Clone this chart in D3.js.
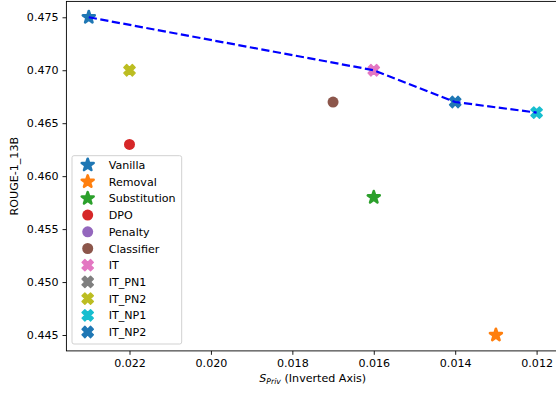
<!DOCTYPE html>
<html>
<head>
<meta charset="utf-8">
<script src="https://cdn.jsdelivr.net/npm/d3@7"></script>
<style>
  body { margin: 0; background: #fff; }
  svg { display: block; font-family: "DejaVu Sans", sans-serif; }
</style>
</head>
<body>
<svg id="chart" width="556" height="394"></svg>
<script>
// DATA -----------------------------------------------------------------------

var methods = ["Vanilla", "Removal", "Substitution", "DPO", "Penalty", "Classifier",
               "IT", "IT_PN1", "IT_PN2", "IT_NP1", "IT_NP2"];
var sPriv   = [0.023, 0.013, 0.016, 0.022, null, 0.017, 0.016, null, 0.022, 0.012, 0.014];
var rouge   = [0.475, 0.445, 0.458, 0.463, null, 0.467, 0.470, null, 0.470, 0.466, 0.467];
var shapes  = ["star", "star", "star", "circle", "circle", "circle",
               "x", "x", "x", "x", "x"];
var colors  = ["#1f77b4", "#ff7f0e", "#2ca02c", "#d62728", "#9467bd", "#8c564b",
               "#e377c2", "#7f7f7f", "#bcbd22", "#17becf", "#1f77b4"];

// pareto frontier (dashed line)
var frontX = [0.023, 0.016, 0.014, 0.012];
var frontY = [0.475, 0.470, 0.467, 0.466];

var xTicks = [0.022, 0.020, 0.018, 0.016, 0.014, 0.012];
var yTicks = [0.445, 0.450, 0.455, 0.460, 0.465, 0.470, 0.475];

// LAYOUT ---------------------------------------------------------------------

var svg = d3.select("#chart");
var padL = 66.4, padR = 559, padT = 1.4, padB = 350.9;
var fs = 11.1; // font size in px

var x = d3.scaleLinear().domain([0.02355, 0.01145]).range([padL, padR]);
var y = d3.scaleLinear().domain([0.4435, 0.4765]).range([padB, padT]);
var fmt = d3.format(".3f");

// marker styles: stars get a thick round stroke so they look "fat"
function markerPath(shape) {
    if (shape == "star") return d3.symbol().type(d3.symbolStar).size(44)();
    if (shape == "circle") return d3.symbol().type(d3.symbolCircle).size(95)();
    return d3.symbol().type(d3.symbolCross).size(80)();
}
function markerStroke(shape) {
    if (shape == "star") return 2.6;
    if (shape == "x") return 1.4;
    return 0;
}
function markerRot(shape) { return shape == "x" ? " rotate(45)" : ""; }

// AXES -----------------------------------------------------------------------

var xAxis = d3.axisBottom(x).tickValues(xTicks).tickFormat(fmt)
    .tickSize(3.9).tickPadding(3.9);
var yAxis = d3.axisLeft(y).tickValues(yTicks).tickFormat(fmt)
    .tickSize(3.9).tickPadding(3.9);

svg.append("g").attr("transform", "translate(0," + padB + ")").call(xAxis);
svg.append("g").attr("transform", "translate(" + padL + ",0)").call(yAxis);
svg.selectAll(".domain").remove();
svg.selectAll(".tick line").attr("stroke", "#000").attr("stroke-width", 0.9);
svg.selectAll(".tick text").attr("fill", "#000").attr("font-size", fs)
   .attr("font-family", "DejaVu Sans, sans-serif");

// frame (right side falls outside the picture)
svg.append("rect")
   .attr("x", padL).attr("y", padT)
   .attr("width", padR - padL).attr("height", padB - padT)
   .attr("fill", "none").attr("stroke", "#000").attr("stroke-width", 0.9);

// POINTS ---------------------------------------------------------------------

for (var i = 0; i < methods.length; i++) {
    if (sPriv[i] == null || rouge[i] == null) continue;
    svg.append("path")
       .attr("d", markerPath(shapes[i]))
       .attr("transform", "translate(" + x(sPriv[i]) + "," + y(rouge[i]) + ")" + markerRot(shapes[i]))
       .attr("fill", colors[i])
       .attr("stroke", colors[i])
       .attr("stroke-width", markerStroke(shapes[i]))
       .attr("stroke-linejoin", "round");
}

// frontier line
var line = d3.line().x(function(d) { return x(d[0]); }).y(function(d) { return y(d[1]); });
svg.append("path")
   .datum(d3.zip(frontX, frontY))
   .attr("d", line)
   .attr("fill", "none")
   .attr("stroke", "#0000ff")
   .attr("stroke-width", 2.2)
   .attr("stroke-dasharray", "8.2,3.5");

// LABELS ---------------------------------------------------------------------

svg.append("text")
   .attr("transform", "translate(18," + ((padT + padB) / 2) + ") rotate(-90)")
   .attr("text-anchor", "middle")
   .attr("font-size", fs)
   .text("ROUGE-1_13B");

var xl = svg.append("text")
   .attr("x", (padL + padR) / 2).attr("y", 382)
   .attr("text-anchor", "middle")
   .attr("font-size", fs);
xl.append("tspan").attr("font-style", "italic").text("S");
xl.append("tspan").attr("font-style", "italic").attr("font-size", 7.8)
  .attr("dy", 2).text("Priv");
xl.append("tspan").attr("dy", -2).text(" (Inverted Axis)");

// LEGEND ---------------------------------------------------------------------

var leg = svg.append("g");
leg.append("rect")
   .attr("x", 72).attr("y", 155.7).attr("width", 109.7).attr("height", 188.3)
   .attr("rx", 2)
   .attr("fill", "#fff").attr("fill-opacity", 0.8)
   .attr("stroke", "#cccccc").attr("stroke-width", 0.9);

for (var j = 0; j < methods.length; j++) {
    var ly = 165 + j * 16.7;
    leg.append("path")
       .attr("d", markerPath(shapes[j]))
       .attr("transform", "translate(87.7," + ly + ")" + markerRot(shapes[j]))
       .attr("fill", colors[j])
       .attr("stroke", colors[j])
       .attr("stroke-width", markerStroke(shapes[j]))
       .attr("stroke-linejoin", "round");
    leg.append("text")
       .attr("x", 108.7).attr("y", ly + 4)
       .attr("font-size", fs)
       .text(methods[j]);
}
</script>
</body>
</html>
